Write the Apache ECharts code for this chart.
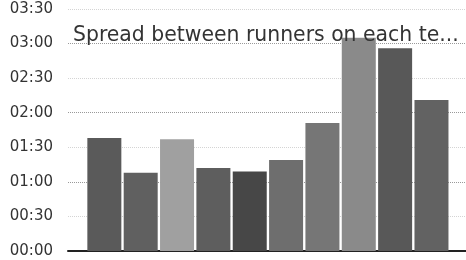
<!DOCTYPE html>
<html lang="en">
<head>
    <meta charset="UTF-8">
    <title>Spread between runners</title>
    <script src="https://cdn.jsdelivr.net/npm/echarts@6/dist/echarts.min.js"></script>
    <style>
        html, body { margin: 0; padding: 0; background: #fff; }
        #container { width: 466px; height: 260px; }
    </style>
</head>
<body>
<div id="container"></div>

<script type="text/javascript">
    // teams (no labels shown on the chart), spread in seconds
    var teams = ['1', '2', '3', '4', '5', '6', '7', '8', '9', '10'];
    var spread = [98, 68, 97, 72, 69, 79, 111, 185, 176, 131];
    var barColors = ['#5a5a5a', '#606060', '#a0a0a0', '#5e5e5e', '#474747',
                     '#6e6e6e', '#767676', '#8a8a8a', '#585858', '#626262'];
    var yTicks = [0, 30, 60, 90, 120, 150, 180, 210];

    function mmss(v) {
        var m = Math.floor(v / 60), s = v % 60;
        return (m < 10 ? '0' : '') + m + ':' + (s < 10 ? '0' : '') + s;
    }

    var chart = echarts.init(document.getElementById('container'), null, { renderer: 'canvas' });

    var barData = [];
    for (var i = 0; i < teams.length; i++) {
        barData.push({
            value: [i + 1, spread[i]],
            itemStyle: { color: barColors[i] }
        });
    }

    var option = {
        animation: false,
        title: {
            text: 'Spread between runners on each te...',
            left: 73,
            top: 26,
            padding: 0,
            textStyle: {
                fontFamily: 'DejaVu Sans',
                fontSize: 20.4,
                fontWeight: 'normal',
                color: '#333'
            }
        },
        grid: { left: 68, right: 0, top: 9, bottom: 9 },
        xAxis: {
            type: 'value',
            min: 0,
            max: 10.95,
            axisLine: { show: true, onZero: true, lineStyle: { color: '#222', width: 2 } },
            axisTick: { show: false },
            axisLabel: { show: false },
            splitLine: { show: false }
        },
        yAxis: {
            type: 'value',
            min: yTicks[0],
            max: yTicks[yTicks.length - 1],
            interval: 30,
            axisLine: { show: false },
            axisTick: { show: false },
            axisLabel: {
                margin: 15,
                fontFamily: 'DejaVu Sans',
                fontSize: 15,
                color: '#333',
                formatter: function (v) { return mmss(v); }
            },
            splitLine: {
                show: true,
                lineStyle: { type: 'dotted', color: ['#999', '#d4d4d4'], width: 1 }
            }
        },
        series: [{
            type: 'bar',
            barWidth: 34,
            data: barData
        }]
    };

    chart.setOption(option);
</script>
</body>
</html>
